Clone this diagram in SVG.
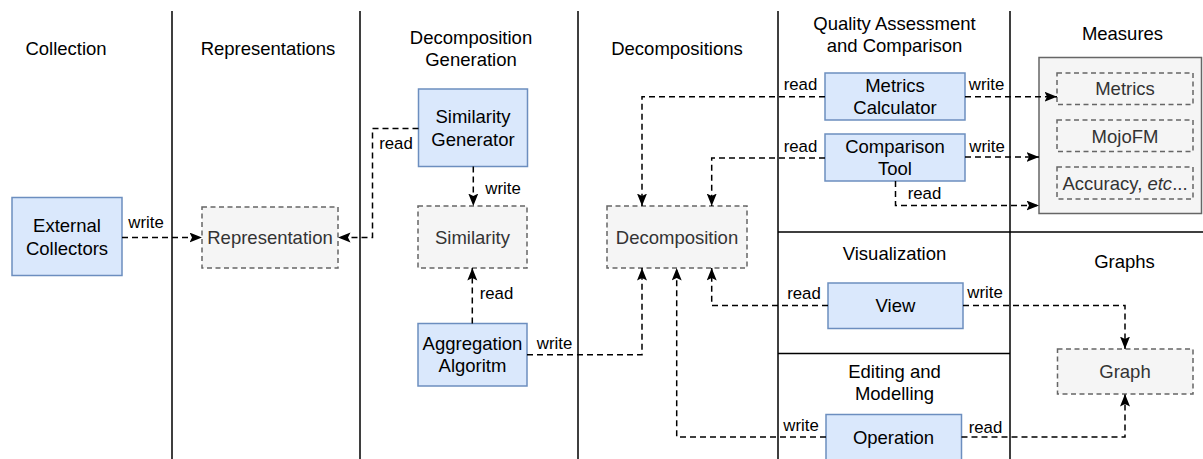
<svg xmlns="http://www.w3.org/2000/svg" width="1203" height="459" viewBox="0 0 1203 459">
<style>
text{font-family:"Liberation Sans",Arial,sans-serif;text-anchor:middle}
.h{font-size:18.5px;fill:#000}
.bt{font-size:18.5px;fill:#000}
.gt{font-size:18.5px;fill:#333}
.lb{font-size:16.8px;fill:#000}
.sep{stroke:#000;stroke-width:1.5;fill:none}
.blue{fill:#dae8fc;stroke:#6c8ebf;stroke-width:1.5}
.grey{fill:#f5f5f5;stroke:#666;stroke-width:1.5;stroke-dasharray:5 3.5}
.cont{fill:#f5f5f5;stroke:#666;stroke-width:1.5}
.c{fill:none;stroke:#000;stroke-width:1.5;stroke-dasharray:6 4;marker-end:url(#arr)}
</style>
<defs>
<marker id="arr" markerUnits="userSpaceOnUse" markerWidth="14" markerHeight="11" refX="12.5" refY="5" orient="auto">
<path d="M0,0 L12.5,5 L0,10 L2.5,5 Z" fill="#000"/>
</marker>
</defs>
<rect width="1203" height="459" fill="#fff"/>
<g id="lanes">
<path class="sep" d="M172,11V459M360,11V459M578,11V459M778,11V459M1010,11V459M778,232H1203M778,353.5H1010"/>
<text class="h" x="66" y="55">Collection</text>
<text class="h" x="268" y="55">Representations</text>
<text class="h" x="471" y="43.5">Decomposition</text>
<text class="h" x="471" y="65.5">Generation</text>
<text class="h" x="677" y="55">Decompositions</text>
<text class="h" x="894.5" y="29.5">Quality Assessment</text>
<text class="h" x="894.5" y="51.5">and Comparison</text>
<text class="h" x="1122.5" y="39.5">Measures</text>
<text class="h" x="894.5" y="260">Visualization</text>
<text class="h" x="894.5" y="378">Editing and</text>
<text class="h" x="894.5" y="400">Modelling</text>
<text class="h" x="1124.5" y="268">Graphs</text>
</g>
<g id="external-collectors">
<rect class="blue" x="12" y="197.5" width="110" height="78"/>
<text class="bt" x="67" y="232">External</text>
<text class="bt" x="67" y="254.5">Collectors</text>
</g>
<g id="representation">
<rect class="grey" x="202" y="207" width="136" height="61"/>
<text class="gt" x="270" y="244">Representation</text>
</g>
<g id="similarity-generator">
<rect class="blue" x="418.5" y="89" width="109" height="77.5"/>
<text class="bt" x="473" y="123">Similarity</text>
<text class="bt" x="473" y="145.5">Generator</text>
</g>
<g id="similarity">
<rect class="grey" x="418" y="206" width="109" height="62"/>
<text class="gt" x="472.5" y="243.5">Similarity</text>
</g>
<g id="aggregation-algoritm">
<rect class="blue" x="418" y="323.5" width="109" height="62.5"/>
<text class="bt" x="472.5" y="349.5">Aggregation</text>
<text class="bt" x="472.5" y="372">Algoritm</text>
</g>
<g id="decomposition">
<rect class="grey" x="607" y="206" width="140" height="62"/>
<text class="gt" x="677" y="243.5">Decomposition</text>
</g>
<g id="metrics-calculator">
<rect class="blue" x="825" y="73" width="140" height="47"/>
<text class="bt" x="895" y="91.5">Metrics</text>
<text class="bt" x="895" y="114">Calculator</text>
</g>
<g id="comparison-tool">
<rect class="blue" x="825" y="134" width="140" height="47"/>
<text class="bt" x="895" y="152.5">Comparison</text>
<text class="bt" x="895" y="175">Tool</text>
</g>
<g id="measures">
<rect class="cont" x="1039" y="57.5" width="162.5" height="156"/>
</g>
<g id="metrics">
<rect class="grey" x="1057" y="73" width="136" height="31.5"/>
<text class="gt" x="1125" y="95">Metrics</text>
</g>
<g id="mojofm">
<rect class="grey" x="1057" y="120" width="136" height="31.5"/>
<text class="gt" x="1125" y="142.5">MojoFM</text>
</g>
<g id="accuracy">
<rect class="grey" x="1057" y="167" width="136" height="32"/>
<text class="gt" x="1125" y="189.5">Accuracy, <tspan font-style="italic">etc</tspan>...</text>
</g>
<g id="view">
<rect class="blue" x="828" y="283" width="135" height="45.5"/>
<text class="bt" x="895.5" y="312">View</text>
</g>
<g id="operation">
<rect class="blue" x="826" y="414.5" width="135.5" height="46"/>
<text class="bt" x="893.5" y="444">Operation</text>
</g>
<g id="graph">
<rect class="grey" x="1057.5" y="349" width="135.5" height="45"/>
<text class="gt" x="1125" y="378">Graph</text>
</g>
<g id="connectors">
<path class="c" d="M122,237.5H202"/>
<path class="c" d="M418.5,128.5H372.5V237.5H338"/>
<path class="c" d="M473.3,166.5V206"/>
<path class="c" d="M472.3,323.5V268"/>
<path class="c" d="M527,354.7H642V268"/>
<path class="c" d="M825,96.7H642V206"/>
<path class="c" d="M825,158H711.7V206"/>
<path class="c" d="M965,96.7H1057"/>
<path class="c" d="M965,157H1039"/>
<path class="c" d="M895.5,181V205.5H1039"/>
<path class="c" d="M828,305.5H711.7V268"/>
<path class="c" d="M963,305.5H1125V349"/>
<path class="c" d="M826,437H676.7V268"/>
<path class="c" d="M961.5,437H1125V394"/>
<text class="lb" x="146" y="227.5">write</text>
<text class="lb" x="396" y="149">read</text>
<text class="lb" x="503" y="194">write</text>
<text class="lb" x="496.5" y="299">read</text>
<text class="lb" x="554.5" y="349">write</text>
<text class="lb" x="800.5" y="90">read</text>
<text class="lb" x="986.5" y="90">write</text>
<text class="lb" x="800.5" y="151.5">read</text>
<text class="lb" x="987" y="152">write</text>
<text class="lb" x="924.5" y="199">read</text>
<text class="lb" x="804" y="298.5">read</text>
<text class="lb" x="985" y="298">write</text>
<text class="lb" x="801" y="431">write</text>
<text class="lb" x="985.5" y="433">read</text>
</g>
</svg>
